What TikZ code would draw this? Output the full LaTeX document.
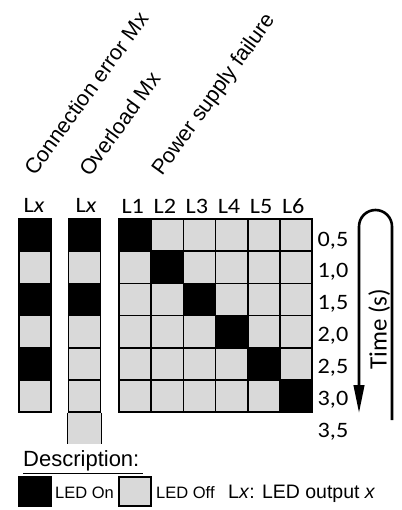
\documentclass[tikz,border=0pt]{standalone}
\usepackage{fontspec}
\setmainfont{Liberation Sans}
\newfontfamily\calibfont[FakeStretch=1.1]{Carlito}
\newfontfamily\timefont{Carlito}
\usetikzlibrary{arrows.meta}
\definecolor{offgray}{HTML}{D9D9D9}
\colorlet{ongray}{black}

\begin{document}
\begin{tikzpicture}[x=1pt,y=1pt,
 cell/.style={draw=black,line width=1.8pt,minimum size=32.1pt,inner sep=0pt},
 hdr/.style={font=\calibfont\fontsize{22}{26}\selectfont,anchor=base,inner sep=0pt},
 tlab/.style={font=\calibfont\fontsize{22}{26}\selectfont,anchor=base,inner sep=0pt},
 tilt/.style={font=\fontsize{21.5}{25}\selectfont,rotate=54,anchor=base west,inner sep=0pt},
 legtxt/.style={font=\fontsize{16.5}{20}\selectfont,anchor=base west,inner sep=0pt}]
\useasboundingbox (0,0) rectangle (401,-510);

% rotated column titles
\node[tilt] (lce) at (35,-177) {Connection error Mx};
\node[tilt] (lol) at (90,-178) {Overload Mx};
\node[tilt] (lps) at (162,-177) {Power supply failure};

% headers
\node[hdr] (hce) at (34,-213) {L\textit{x}};
\node[hdr] (hol) at (86,-213) {L\textit{x}};
\foreach \c in {1,...,6}
  \node[hdr] (h\c) at ({135.25+32.1*(\c-1)-2.5},-214) {L\c};

% connection error column
\foreach \r/\f in {1/ongray,2/offgray,3/ongray,4/offgray,5/ongray,6/offgray}
  \node[cell,fill=\f] (ce\r) at (35,{-235.25-32.1*(\r-1)}) {};

% overload column
\foreach \r/\f in {1/ongray,2/offgray,3/ongray,4/offgray,5/offgray,6/offgray}
  \node[cell,fill=\f] (ol\r) at (84.5,{-235.25-32.1*(\r-1)}) {};
\fill[offgray] (ol6.south west) rectangle ([yshift=-31pt]ol6.south east);
\draw[line width=1.8pt] (ol6.south west) -- ++(0,-31);
\draw[line width=1.8pt] (ol6.south east) -- ++(0,-31);

% power supply failure grid
\foreach \r in {1,...,6}{
  \foreach \c in {1,...,6}{
    \ifnum\r=\c\def\f{ongray}\else\def\f{offgray}\fi
    \node[cell,fill=\f] (g\r\c) at ({135.25+32.1*(\c-1)},{-235.25-32.1*(\r-1)}) {};
  }
}

% time labels
\foreach \r/\t in {1/{0,5},2/{1,0},3/{1,5},4/{2,0},5/{2,5},6/{3,0},7/{3,5}}
  \node[tlab] (t\r) at (333,{-246-31.9*(\r-1)}) {\t};

% time arrow
\coordinate (tS) at (392,-420);
\coordinate (tE) at (359,-413);
\draw[line width=2.6pt,-{Triangle[length=28pt,width=10.5pt]}] (tS) -- ++(0,193.5)
  arc[start angle=0,end angle=180,radius=16.5] -- (tE);
\node[font=\timefont\fontsize{25}{30}\selectfont,rotate=90,anchor=base,inner sep=0pt] (time) at (386.7,-329.3) {Time (s)};

% description
\node[font=\fontsize{22}{26}\selectfont,anchor=base west,inner sep=0pt] (desc) at (23,-466.7) {Description:};
\draw[line width=1pt] ([yshift=-6.3pt]desc.base west) -- ++(120,0);
\node[fill=black,minimum width=33.4pt,minimum height=31.3pt,inner sep=0pt] (kon) at (35,-491.7) {};
\node[legtxt] (kont) at (55,-498) {LED On};
\node[cell,fill=offgray,minimum width=32.2pt,minimum height=29.2pt] (koff) at (135,-491.5) {};
\node[legtxt] (kofft) at (156,-498) {LED Off};
\node[font=\fontsize{19.5}{23}\selectfont,anchor=base west,inner sep=0pt] (klx) at (228,-498) {L\textit{x}: LED output \textit{x}};
\end{tikzpicture}
\end{document}
